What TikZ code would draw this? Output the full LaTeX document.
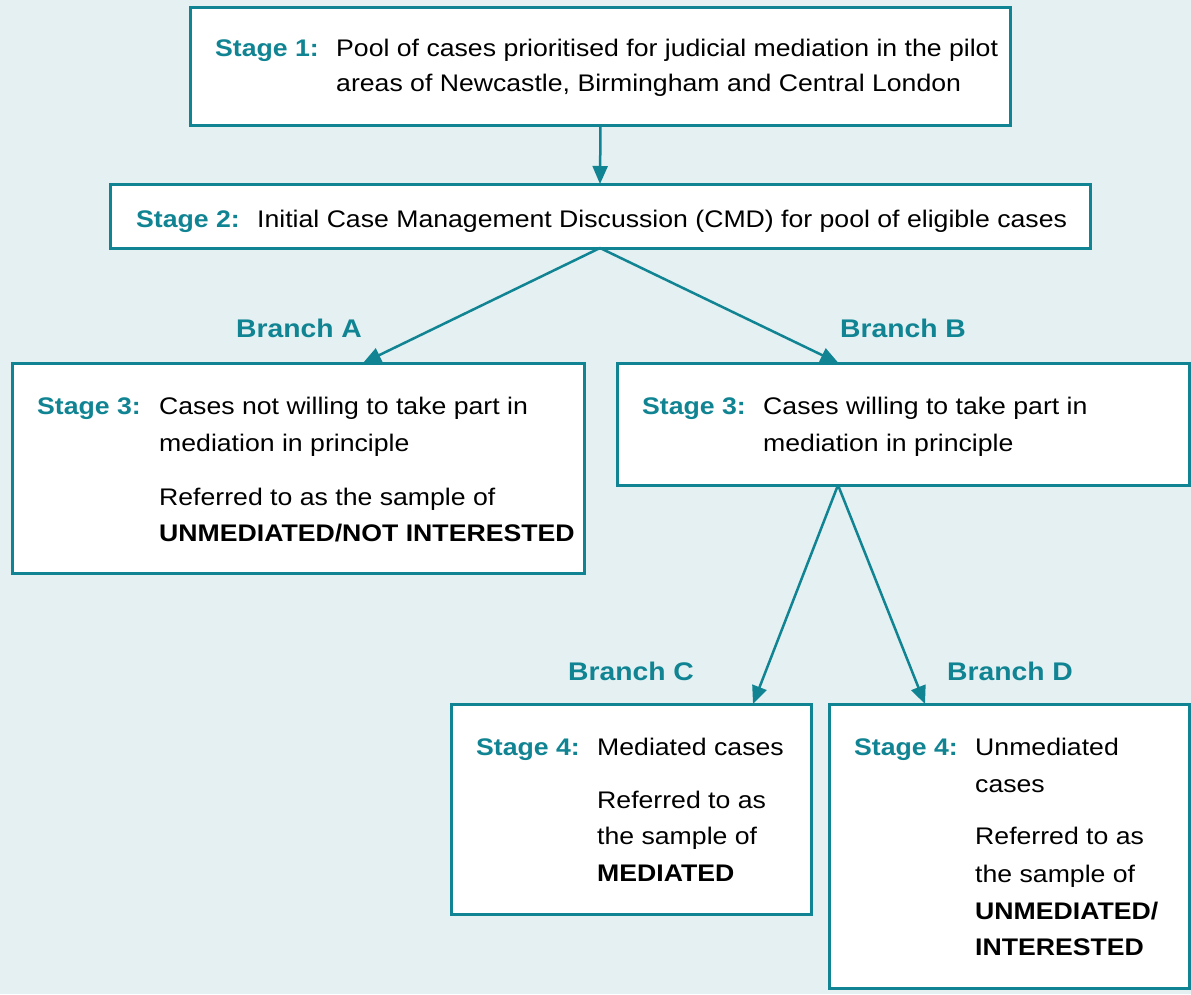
\documentclass[tikz,border=0pt]{standalone}
\usepackage{fontspec}
\setmainfont{Liberation Sans}[FakeStretch=1.11]
\usetikzlibrary{arrows.meta}
\definecolor{teal}{RGB}{16,132,146}
\definecolor{bgblue}{RGB}{228,240,242}
\tikzset{
  box/.style={draw=teal, fill=white, line width=3pt, rectangle, inner sep=0pt, outer sep=0pt},
  arr/.style={draw=teal, line width=2.5pt, -{Triangle[length=18pt,width=15pt]}},
  txt/.style={anchor=base west, inner sep=0pt, font=\fontsize{24}{24}\selectfont},
  stg/.style={txt, text=teal, font=\fontsize{24}{24}\selectfont\bfseries},
  btxt/.style={txt, font=\fontsize{24}{24}\selectfont\bfseries},
  branch/.style={anchor=base, inner sep=0pt, text=teal, font=\fontsize{25.5}{25.5}\selectfont\bfseries}
}
\begin{document}
\begin{tikzpicture}[x=1pt,y=-1pt]
\useasboundingbox (0,0) rectangle (1191,994);
\fill[bgblue] (0,0) rectangle (1191,994);

% boxes
\node[box, minimum width=820, minimum height=118] (b1) at (600.5,66) {};
\node[box, minimum width=980, minimum height=64] (b2) at (600,216) {};
\node[box, minimum width=572, minimum height=210] (b3a) at (298,468) {};
\node[box, minimum width=572, minimum height=122] (b3b) at (903.5,424) {};
\node[box, minimum width=360, minimum height=210] (b4c) at (631,809) {};
\node[box, minimum width=360, minimum height=284] (b4d) at (1009,846) {};

% stage 1
\node[stg] (s1) at (215,56) {Stage 1:};
\node[txt] (t1a) at (336,56) {Pool of cases prioritised for judicial mediation in the pilot};
\node[txt] (t1b) at (336,91) {areas of Newcastle, Birmingham and Central London};

% stage 2
\node[stg] (s2) at (136,227) {Stage 2:};
\node[txt] (t2a) at (257,227) {Initial Case Management Discussion (CMD) for pool of eligible cases};

% branches
\node[branch] (brA) at (299,337) {Branch A};
\node[branch] (brB) at (903,337) {Branch B};
\node[branch] (brC) at (631,680) {Branch C};
\node[branch] (brD) at (1010,680) {Branch D};

% stage 3 A
\node[stg] (s3a) at (37,414) {Stage 3:};
\node[txt] (t3aa) at (159,414) {Cases not willing to take part in};
\node[txt] (t3ab) at (159,451) {mediation in principle};
\node[txt] (t3ac) at (159,505) {Referred to as the sample of};
\node[btxt] (t3ad) at (159,541) {UNMEDIATED/NOT INTERESTED};

% stage 3 B
\node[stg] (s3b) at (642,414) {Stage 3:};
\node[txt] (t3ba) at (763,414) {Cases willing to take part in};
\node[txt] (t3bb) at (763,451) {mediation in principle};

% stage 4 C
\node[stg] (s4c) at (476,755) {Stage 4:};
\node[txt] (t4ca) at (597,755) {Mediated cases};
\node[txt] (t4cb) at (597,808) {Referred to as};
\node[txt] (t4cc) at (597,844) {the sample of};
\node[btxt] (t4cd) at (597,881) {MEDIATED};

% stage 4 D
\node[stg] (s4d) at (854,755) {Stage 4:};
\node[txt] (t4da) at (975,755) {Unmediated};
\node[txt] (t4db) at (975,792) {cases};
\node[txt] (t4dc) at (975,844) {Referred to as};
\node[txt] (t4dd) at (975,882) {the sample of};
\node[btxt] (t4de) at (975,919) {UNMEDIATED/};
\node[btxt] (t4df) at (975,955) {INTERESTED};

% connectors
\draw[arr] (b1.south) -- (b2.north);
\draw[arr] (b2.south) -- ([xshift=351]b3a.north west);
\draw[arr] (b2.south) -- ([xshift=221]b3b.north west);
\draw[arr] ([xshift=-65.5]b3b.south) -- ([xshift=302]b4c.north west);
\draw[arr] ([xshift=-65.5]b3b.south) -- ([xshift=96]b4d.north west);
\end{tikzpicture}
\end{document}
